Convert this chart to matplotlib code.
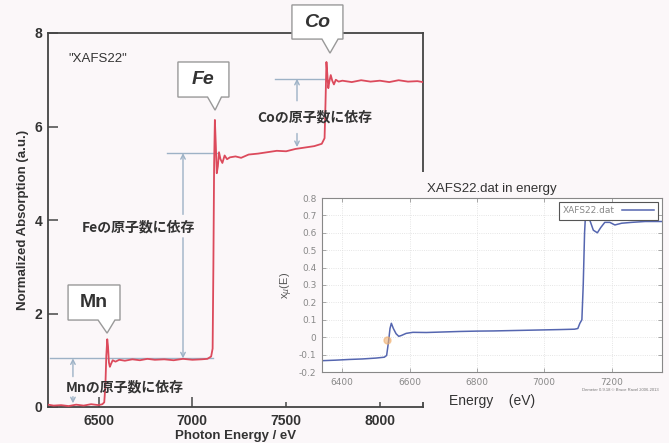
import matplotlib
matplotlib.use("Agg")
import matplotlib.pyplot as plt
from matplotlib.patches import Polygon, Rectangle

# main spectrum (normalized absorption)
energy = [6230, 6260, 6300, 6340, 6380, 6420, 6460, 6500, 6520, 6530, 6536, 6541,
          6546, 6550, 6555, 6560, 6566, 6575, 6590, 6610, 6640, 6680, 6720, 6760,
          6800, 6850, 6900, 6950, 7000, 7050, 7080, 7100, 7108, 7112, 7116, 7120,
          7125, 7130, 7136, 7142, 7150, 7160, 7172, 7185, 7200, 7230, 7260, 7300,
          7350, 7400, 7450, 7500, 7550, 7600, 7650, 7690, 7705, 7710, 7715, 7720,
          7725, 7730, 7738, 7746, 7755, 7765, 7780, 7800, 7850, 7900, 7950, 8000,
          8050, 8100, 8150, 8200, 8230]
absorption = [0.05, 0.03, 0.04, 0.02, 0.05, 0.03, 0.06, 0.04, 0.06, 0.10, 0.45, 1.10,
              1.45, 1.30, 0.95, 0.86, 0.92, 1.00, 0.97, 1.01, 0.99, 1.02, 1.00, 1.03,
              1.01, 1.02, 1.00, 1.03, 1.01, 1.02, 1.03, 1.08, 1.25, 3.00, 5.20, 6.14,
              5.60, 5.00, 5.15, 5.45, 5.30, 5.22, 5.38, 5.30, 5.34, 5.36, 5.33, 5.40,
              5.42, 5.45, 5.48, 5.47, 5.52, 5.55, 5.58, 5.63, 5.75, 6.50, 7.38, 7.10,
              6.82, 6.95, 7.10, 6.98, 6.90, 7.00, 6.96, 6.98, 6.95, 6.99, 6.96, 6.98,
              6.95, 6.99, 6.96, 6.97, 6.95]

# inset spectrum (Athena screenshot)
inset_energy = [6340, 6380, 6420, 6460, 6500, 6525, 6532, 6538, 6542, 6546, 6552,
                6560, 6568, 6576, 6590, 6610, 6650, 6700, 6750, 6800, 6850, 6900,
                6950, 7000, 7050, 7090, 7100, 7106, 7112, 7116, 7120, 7124, 7128,
                7136, 7146, 7158, 7168, 7180, 7195, 7210, 7230, 7260, 7300, 7350]
inset_mu = [-0.135, -0.132, -0.128, -0.125, -0.120, -0.115, -0.105, -0.02, 0.05, 0.08,
            0.05, 0.02, 0.005, 0.01, 0.022, 0.028, 0.027, 0.030, 0.033, 0.035, 0.036,
            0.038, 0.040, 0.042, 0.044, 0.046, 0.050, 0.080, 0.100, 0.300, 0.600,
            0.750, 0.730, 0.670, 0.615, 0.600, 0.630, 0.660, 0.660, 0.645, 0.655,
            0.660, 0.665, 0.665]
e0_energy = 6534
e0_mu = -0.016

main_xticks = [6500, 7000, 7500, 8000]
main_yticks = [0, 2, 4, 6, 8]
inset_xticks = [6400, 6600, 6800, 7000, 7200]
inset_yticks = [-0.2, -0.1, 0, 0.1, 0.2, 0.3, 0.4, 0.5, 0.6, 0.7, 0.8]

W, H = 669, 443
LATIN = "Liberation Sans"
JP = ["Noto Sans CJK JP", "DejaVu Sans"]
ARROW = "#9db2c6"
BG = "#fbf7f9"

fig = plt.figure(figsize=(W / 100, H / 100), dpi=100, facecolor=BG)

# ---- main plot ----
ax = fig.add_axes([48 / W, 1 - 407 / H, 375 / W, 374 / H])
ax.set_facecolor(BG)
ax.plot(energy, absorption, color="#dc4a5c", lw=1.3, zorder=3)
ax.set_xlim(6230, 8230)
ax.set_ylim(0, 8)
ax.set_xticks(main_xticks)
ax.set_yticks(main_yticks)
ax.tick_params(direction="in", length=7, width=1.2, color="#555", labelsize=10,
               labelcolor="#333", pad=4)
ax.tick_params(axis="x", pad=5)
for lab in ax.get_xticklabels() + ax.get_yticklabels():
    lab.set_fontweight("bold")
    lab.set_family(LATIN)
for sp in ax.spines.values():
    sp.set_color("#444")
    sp.set_linewidth(1.3)
ax.set_xlabel("Photon Energy / eV", fontsize=9.5, fontweight="bold", family=LATIN,
              color="#333", labelpad=1.5)
ax.set_ylabel("Normalized Absorption (a.u.)", fontsize=9.5, fontweight="bold",
              family=LATIN, color="#333", labelpad=4)

ax.text(6337, 7.45, '"XAFS22"', fontsize=9.5, family=LATIN, color="#333",
        ha="left", va="center")

# edge-jump reference lines
ax.plot([6240, 7112], [1.04, 1.04], color=ARROW, lw=1.0, zorder=2)
ax.plot([6865, 7131], [5.43, 5.43], color=ARROW, lw=1.0, zorder=2)
ax.plot([7441, 7718], [7.02, 7.02], color=ARROW, lw=1.0, zorder=2)


def arrow(x, y_from, y_to):
    ax.annotate("", xy=(x, y_to), xytext=(x, y_from),
                arrowprops=dict(arrowstyle="->", color=ARROW, lw=1.0,
                                shrinkA=0, shrinkB=0, mutation_scale=8))


arrow(6363, 0.65, 1.04)
arrow(6363, 0.22, 0.08)
arrow(6950, 4.12, 5.43)
arrow(6950, 3.62, 1.04)
arrow(7558, 6.55, 7.02)
arrow(7558, 5.85, 5.56)

jp_kw = dict(fontsize=10, fontweight="bold", family=JP, color="#333",
             ha="center", va="center", zorder=4)
ax.text(6641, 0.41, "Mnの原子数に依存", **jp_kw)
ax.text(6710, 3.85, "Feの原子数に依存", **jp_kw)
ax.text(7654, 6.2, "Coの原子数に依存", **jp_kw)


def callout(x0, x1, y0, y1, bx0, bx1, tip, label, style):
    pts = [(x0, y1), (x1, y1), (x1, y0), (bx1, y0), tip, (bx0, y0), (x0, y0)]
    ax.add_patch(Polygon(pts, closed=True, facecolor="white", edgecolor="#999",
                         lw=1.0, clip_on=False, zorder=5))
    ax.text((x0 + x1) / 2, (y0 + y1) / 2, label, fontsize=14, fontweight="bold",
            style=style, family=LATIN, color="#333", ha="center", va="center",
            zorder=6, clip_on=False)


callout(6337, 6614, 1.86, 2.61, 6497, 6587, (6545, 1.58), "Mn", "normal")
callout(6923, 7195, 6.63, 7.38, 7081, 7155, (7121, 6.35), "Fe", "italic")
callout(7531, 7803, 7.87, 8.60, 7691, 7777, (7734, 7.57), "Co", "italic")

# ---- inset screenshot ----
fig.patches.append(Rectangle((283 / W, 1 - 402 / H), 386 / W, 230 / H,
                             transform=fig.transFigure, facecolor=BG,
                             edgecolor="none", zorder=1))

ins = fig.add_axes([322 / W, 1 - 372 / H, 340 / W, 174 / H], zorder=2)
ins.set_facecolor("white")
ins.plot(inset_energy, inset_mu, color="#5566b0", lw=1.1, label="XAFS22.dat")
ins.plot([e0_energy], [e0_mu], marker="o", ms=5, color="#f0b070", alpha=0.6,
         linestyle="none")
ins.set_xlim(6340, 7350)
ins.set_ylim(-0.2, 0.8)
ins.set_xticks(inset_xticks)
ins.set_yticks(inset_yticks)
ins.set_yticklabels([f"{v:g}" for v in inset_yticks])
ins.grid(True, color="#dddddd", lw=0.6, linestyle=":")
ins.tick_params(direction="in", length=3, width=0.6, color="#999", labelsize=6.5,
                labelcolor="#888", top=True, right=True, pad=4)
for sp in ins.spines.values():
    sp.set_color("#888")
    sp.set_linewidth(0.8)
ins.set_title("XAFS22.dat in energy", fontsize=9.5, family=LATIN, color="#333",
              pad=4)
ins.set_xlabel("Energy    (eV)", fontsize=10, family=LATIN, color="#333",
               labelpad=5)
ins.set_ylabel(r"x$_{\mu}$(E)", fontsize=8, family=LATIN, color="#555",
               labelpad=3)
leg = ins.legend(loc="upper right", fontsize=6.5, markerfirst=False, fancybox=False,
                 framealpha=1, edgecolor="#555", borderpad=0.5, handlelength=3.5,
                 borderaxespad=0.4)
leg.get_frame().set_linewidth(0.8)
for t in leg.get_texts():
    t.set_color("#888")
fig.text(620 / W, 1 - 390 / H, "Demeter 0.9.18 © Bruce Ravel 2006-2013",
         fontsize=3, family=LATIN, color="#777", ha="center", va="center",
         zorder=3)

fig.savefig("out.png", dpi=100, facecolor=BG)
